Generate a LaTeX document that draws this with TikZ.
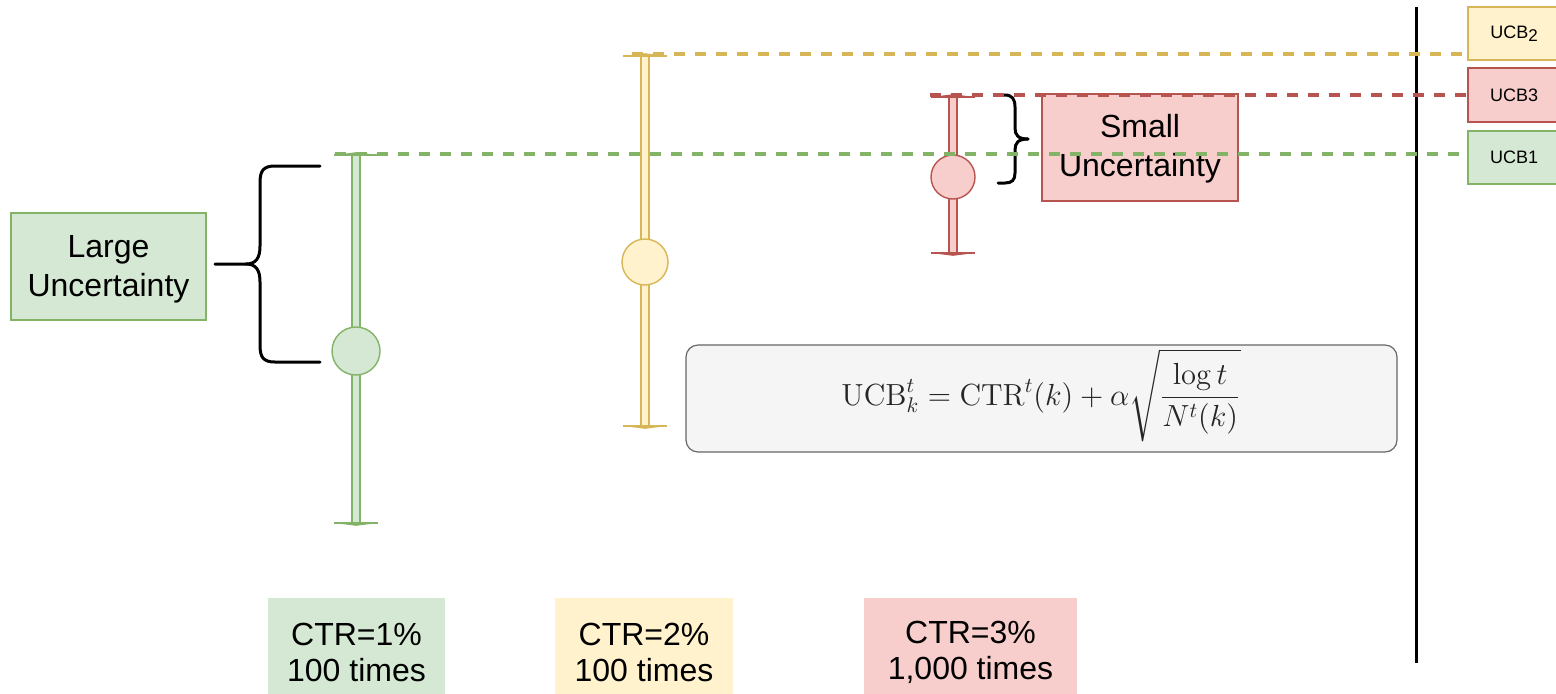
\documentclass[tikz,border=0pt]{standalone}
\usepackage[no-math]{fontspec}
\setmainfont{Liberation Sans}
\usepackage{amsmath}
\definecolor{gfill}{HTML}{D5E8D4}
\definecolor{gline}{HTML}{82B366}
\definecolor{yfill}{HTML}{FFF2CC}
\definecolor{yline}{HTML}{D6B656}
\definecolor{rfill}{HTML}{F8CECC}
\definecolor{rline}{HTML}{B85450}
\definecolor{formfill}{HTML}{F5F5F5}
\definecolor{formline}{HTML}{666666}

% error bar: name, x, top y, bottom y, fill colour, line colour
\newcommand\drawerrbar[6]{%
  \coordinate (#1top) at (#2,#3);
  \coordinate (#1bot) at (#2,#4);
  \draw[draw=#6, fill=#5, line width=0.8pt] ([xshift=-2pt]#1top) rectangle ([xshift=2pt]#1bot);
  \draw[#6, line width=1.4pt] ([xshift=-11pt]#1top) -- ([xshift=11pt]#1top);
  \fill[#6] ([xshift=-11pt]#1top) -- ([yshift=1.4pt]#1top) -- ([xshift=11pt]#1top) -- cycle;
  \draw[#6, line width=1.4pt] ([xshift=-11pt]#1bot) -- ([xshift=11pt]#1bot);
  \fill[#6] ([xshift=-11pt]#1bot) -- ([yshift=-1.4pt]#1bot) -- ([xshift=11pt]#1bot) -- cycle;
}

\begin{document}
\begin{tikzpicture}[x=0.5pt, y=-0.5pt,
  box/.style={draw, line width=0.8pt, inner sep=0pt, align=center},
  bigtext/.style={font=\fontsize{16}{19.5}\selectfont},
  ctrtext/.style={font=\fontsize{16}{18}\selectfont},
  ucbbox/.style={box, minimum width=46pt, minimum height=26.5pt, font=\fontsize{9}{11}\selectfont},
  dot/.style={circle, draw, line width=0.7pt, inner sep=0pt},
  level/.style={dashed, dash pattern=on 5.5pt off 5pt, line width=1.7pt},
  brace/.style={line width=1.5pt, black, line cap=round},
]
\useasboundingbox (0,0) rectangle (1556,693);

% separating axis
\coordinate (axtop) at (1416,7);
\coordinate (axbot) at (1416,663);
\draw[line width=1.5pt] (axtop) -- (axbot);

% labels of the upper bounds
\node[ucbbox, draw=yline, fill=yfill] (ucb2) at (1514,33.5) {UCB\raisebox{-0.35ex}{\fontsize{8.5}{10}\selectfont 2}};
\node[ucbbox, draw=rline, fill=rfill, minimum height=27pt] (ucb3) at (1514,95) {UCB3};
\node[ucbbox, draw=gline, fill=gfill] (ucb1) at (1514,157.5) {UCB1};

% error bars
\drawerrbar{g}{356}{155}{523}{gfill}{gline}
\drawerrbar{y}{645}{56}{426}{yfill}{yline}
\drawerrbar{r}{953}{97}{253}{rfill}{rline}
\node[dot, draw=gline, fill=gfill, minimum size=24pt] (gdot) at (356,351) {};
\node[dot, draw=yline, fill=yfill, minimum size=23pt] (ydot) at (645,262) {};
\node[dot, draw=rline, fill=rfill, minimum size=22pt] (rdot) at (953,177) {};

% uncertainty boxes
\node[box, bigtext, draw=gline, fill=gfill, minimum width=97.5pt, minimum height=53.5pt] (large) at (108.5,266.5) {\rule{0pt}{14pt}Large\\Uncertainty};
\node[box, bigtext, draw=rline, fill=rfill, minimum width=98pt, minimum height=53.5pt] (small) at (1140,147.5) {\rule{0pt}{13pt}Small\\Uncertainty};

% braces
\coordinate (bigtip) at (215,264);
\draw[brace] (320,166) -- (275,166) .. controls (263,166) and (260,171) .. (260,183)
  -- (260,246) .. controls (260,258) and (256,264) .. (246,264) -- (bigtip);
\draw[brace] (246,264) .. controls (256,264) and (260,270) .. (260,282)
  -- (260,345) .. controls (260,357) and (263,362) .. (275,362) -- (320,362);
\coordinate (smalltip) at (1028,139);
\draw[brace] (1001,95) -- (1005,95) .. controls (1012,95) and (1015,99) .. (1015,107)
  -- (1015,128) .. controls (1015,135) and (1018,139) .. (smalltip);
\draw[brace] (smalltip) .. controls (1018,139) and (1015,143) .. (1015,150)
  -- (1015,173) .. controls (1015,180) and (1012,183) .. (1005,183) -- (998,183);

% dashed levels of the upper bounds
\draw[level, yline] (632,54) -- (632,54 -| ucb2.west);
\draw[level, rline] (930,95) -- (ucb3.west);
\draw[level, gline] (335,154) -- (335,154 -| ucb1.west);

% formula
\node[box, draw=formline, fill=formfill, rounded corners=6pt, minimum width=355.5pt, minimum height=53.5pt, line width=0.6pt] (formula) at (1041.5,398.5) {};
\node[text=black!85, font=\fontsize{14.4}{18}\selectfont] (formtext) at (1041,395)
  {\scalebox{1.06}{$\displaystyle \mathrm{UCB}_k^t=\mathrm{CTR}^t(k)+\alpha\sqrt{\frac{\log t}{N^t(k)}}$}};

% arm statistics
\node[ctrtext, fill=gfill, minimum width=88.5pt, minimum height=54pt, align=center] (ctr1) at (356.5,652) {CTR=1\%\\100 times};
\node[ctrtext, fill=yfill, minimum width=89pt, minimum height=54pt, align=center] (ctr2) at (644,652) {CTR=2\%\\100 times};
\node[ctrtext, fill=rfill, minimum width=106.5pt, minimum height=54pt, align=center] (ctr3) at (970.5,652) {CTR=3\%\\1,000 times};
\end{tikzpicture}
\end{document}
